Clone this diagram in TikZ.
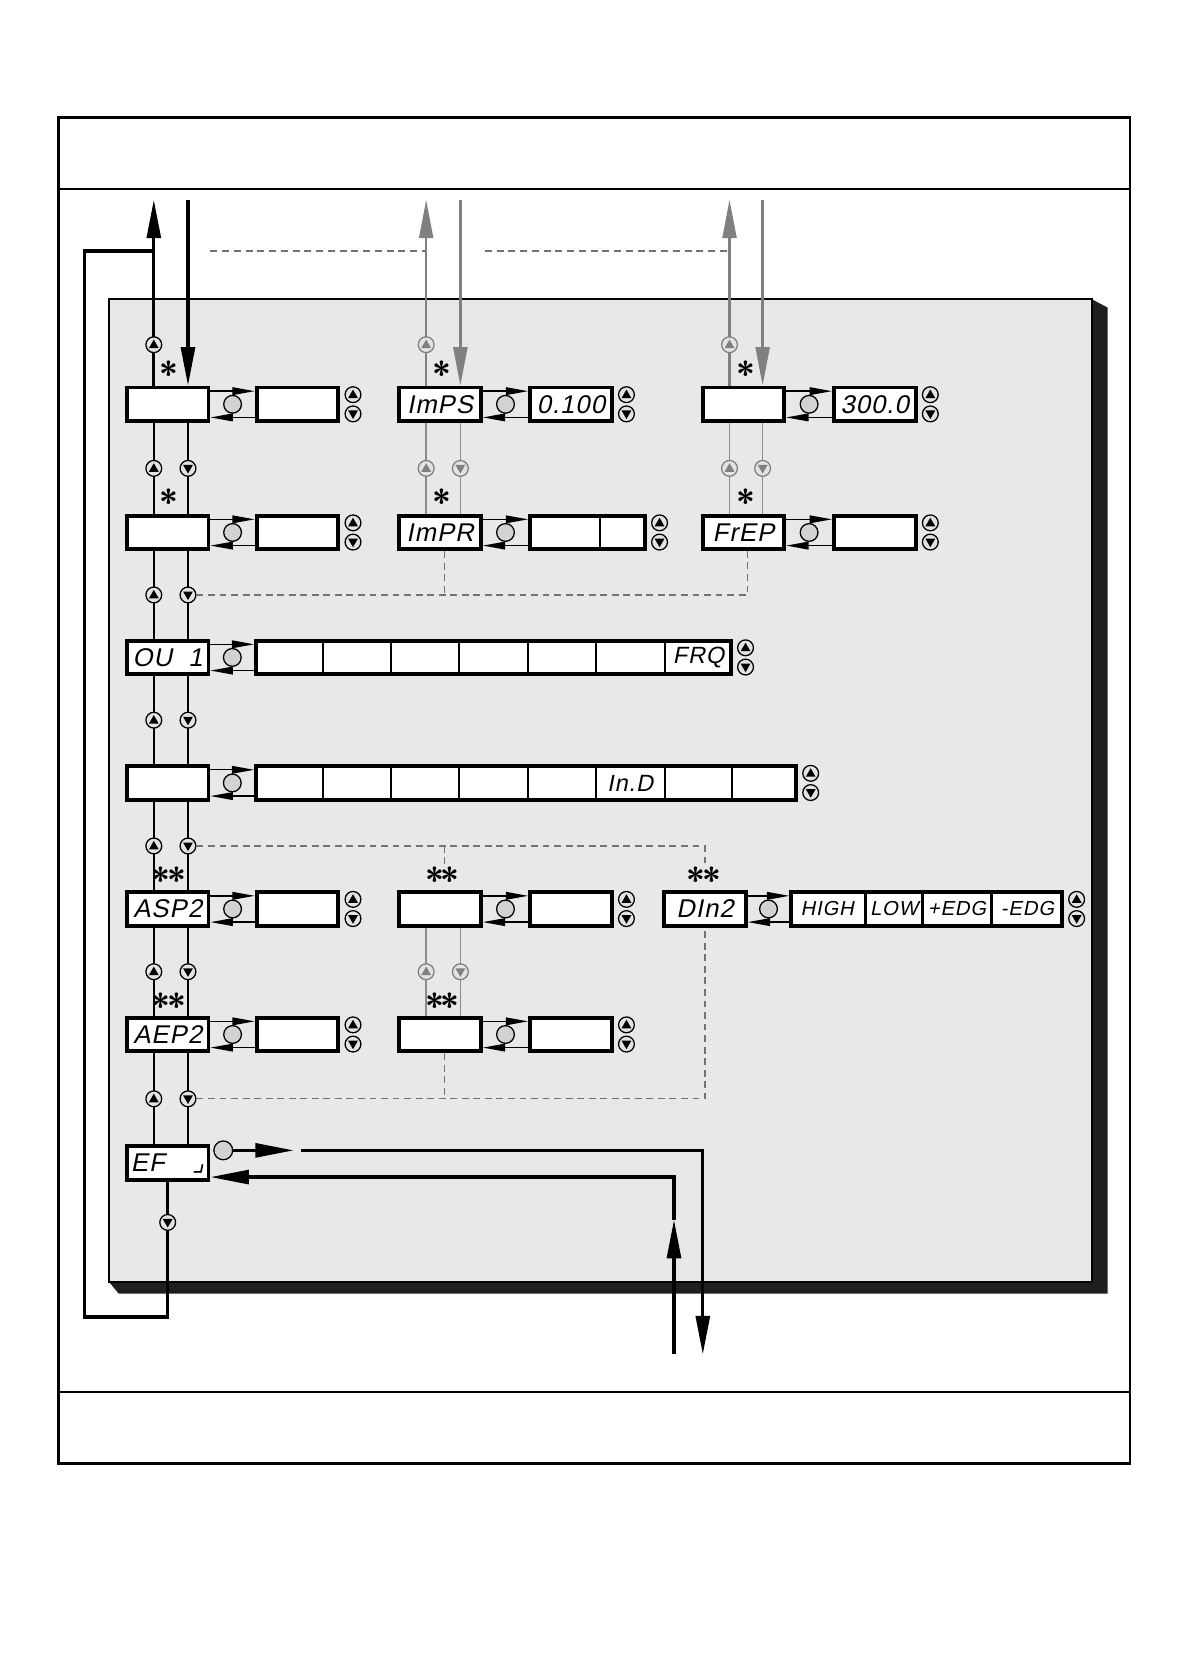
\documentclass[tikz,border=0pt]{standalone}
\usepackage{fontspec}
\newfontfamily\lcd{Liberation Sans}[FakeSlant=0.2,LetterSpace=4]
\newfontfamily\symf{DejaVu Sans}[FakeSlant=0.2]
\usetikzlibrary{arrows.meta,calc}

\tikzset{
  disp/.style={draw, line width=1.8pt, fill=white, minimum width=38.2pt,
    minimum height=15.7pt, inner sep=0pt, font=\lcd\fontsize{12}{12}\selectfont},
  lcdtext/.style={inner sep=0pt, font=\lcd\fontsize{11}{11}\selectfont},
  cell/.style={inner sep=0pt, font=\lcd\fontsize{9.5}{9.5}\selectfont},
  astx/.style={inner sep=0pt, anchor=base, font=\sffamily\bfseries\fontsize{16}{16}\selectfont},
  press/.style={circle, draw, line width=0.6pt, fill=gray!35, minimum size=8.3pt, inner sep=0pt},
  upbtn/.style={circle, draw=#1, line width=0.6pt, fill=gray!22, minimum size=7.4pt, inner sep=0pt,
    path picture={\fill[#1] (path picture bounding box.center) +(0,2.4pt) -- +(-2.3pt,-1.6pt) -- +(2.3pt,-1.6pt) -- cycle;}},
  upbtn/.default=black,
  dnbtn/.style={circle, draw=#1, line width=0.6pt, fill=gray!22, minimum size=7.4pt, inner sep=0pt,
    path picture={\fill[#1] (path picture bounding box.center) +(0,-2.4pt) -- +(-2.3pt,1.6pt) -- +(2.3pt,1.6pt) -- cycle;}},
  dnbtn/.default=black,
  flow/.style={line width=0.65pt},
  gflow/.style={line width=0.65pt, color=black!45},
  big/.style={line width=1.5pt},
  gbig/.style={line width=1.2pt, color=black!50},
  bigtip/.style={-{Triangle[length=18pt,width=6.5pt]}},
  sel/.style={-{Triangle[length=10.5pt,width=3.6pt]}},
  ldash/.style={line width=0.6pt, color=black!55, dash pattern=on 3.2pt off 2.2pt},
  bdash/.style={line width=1.2pt, color=black!55, dash pattern=on 3.3pt off 2.2pt},
}

% box -> value with the set button and the up/down pair
\newcommand\setval[2]{%
  \draw[flow,sel] ([yshift=-2.6pt]#1.north east) -- ([yshift=-2.6pt]#2.north west);
  \draw[flow,sel] ([yshift=2.6pt]#2.south west) -- ([yshift=2.6pt]#1.south east);
  \node[press] (#1-ok) at ($(#1.east)!.5!(#2.west)$) {};
  \node[upbtn] (#2-up) at ([xshift=6pt,yshift=4.5pt]#2.east) {};
  \node[dnbtn] (#2-dn) at ([xshift=6pt,yshift=-4.5pt]#2.east) {};
}

\begin{document}
\begin{tikzpicture}[x=0.5pt,y=-0.5pt]
  \useasboundingbox (0,0) rectangle (1115,1571);

  % frame
  \draw[line width=1.3pt] (55,110) rectangle (1058,1370);
  \draw[line width=1.1pt] (55,177) -- (1058,177);
  \draw[line width=1.1pt] (55,1303) -- (1058,1303);

  % panel with shadow
  \fill[black!88] (1022,280) -- (1037,288) -- (1037,1211) -- (111,1211) -- (102,1200) -- (1022,1200) -- cycle;
  \draw[line width=0.9pt, fill=gray!18] (102,280) rectangle (1022,1200);

  \coordinate (top) at (0,187);
  \coordinate (band) at (0,235);
  \coordinate (upA) at (144,0);
  \coordinate (dnA) at (176,0);
  \coordinate (upB) at (399,0);
  \coordinate (dnB) at (431,0);
  \coordinate (upC) at (683,0);
  \coordinate (dnC) at (714,0);

  % displays
  \node[disp] (A1) at (157,378.5) {};
  \node[disp] (VA1) at (278.5,378.5) {};
  \node[disp] (A2) at (157,498.5) {};
  \node[disp] (VA2) at (278.5,498.5) {};
  \node[disp] (A3) at (157,615.5) {OU\ \ 1};
  \node[disp, minimum width=222.2pt] (O3) at (462,615.5) {};
  \node[disp] (A4) at (157,733) {};
  \node[disp, minimum width=252.7pt] (O4) at (492.5,733) {};
  \node[disp] (A5) at (157,851) {ASP2};
  \node[disp] (VA5) at (278.5,851) {};
  \node[disp] (A6) at (157,968.5) {AEP2};
  \node[disp] (VA6) at (278.5,968.5) {};
  \node[disp] (A7) at (157,1089) {EF\hspace{13pt}{\symf ⌟}};

  \node[disp] (B1) at (412,378.5) {ImPS};
  \node[disp] (VB1) at (534.5,378.5) {0.100};
  \node[disp] (B2) at (412,498.5) {ImPR};
  \node[disp, minimum width=53.7pt] (VB2) at (550,498.5) {};
  \node[disp] (B5) at (412,851) {};
  \node[disp] (VB5) at (534.5,851) {};
  \node[disp] (B6) at (412,968.5) {};
  \node[disp] (VB6) at (534.5,968.5) {};

  \node[disp] (C1) at (696,378.5) {};
  \node[disp] (VC1) at (819,378.5) {300.0};
  \node[disp] (C2) at (696,498.5) {FrEP};
  \node[disp] (VC2) at (819,498.5) {};
  \node[disp] (D5) at (660,851) {DIn2};
  \node[disp, minimum width=126.7pt] (VD5) at (867.5,851) {};

  % cells
  \foreach \x in {302,366,430,494,558,623}
    \draw[line width=0.9pt] (\x,0 |- O3.north) -- (\x,0 |- O3.south);
  \foreach \x in {302,366,430,494,558,623,685}
    \draw[line width=0.9pt] (\x,0 |- O4.north) -- (\x,0 |- O4.south);
  \foreach \x in {810,864,928}
    \draw[line width=1.3pt] (\x,0 |- VD5.north) -- (\x,0 |- VD5.south);
  \draw[line width=1.1pt] (562,0 |- VB2.north) -- (562,0 |- VB2.south);

  \node[lcdtext] (O3-frq) at (654,615.5) {FRQ};
  \node[lcdtext] (O4-ind) at (590,733) {In.D};
  \node[cell] (VD5-high) at (774.5,851) {HIGH};
  \node[cell] (VD5-low) at (837,851) {LOW};
  \node[cell] (VD5-pe) at (896,851) {+EDG};
  \node[cell] (VD5-ne) at (962,851) {-EDG};

  \setval{A1}{VA1}
  \setval{A2}{VA2}
  \setval{A3}{O3}
  \setval{A4}{O4}
  \setval{A5}{VA5}
  \setval{A6}{VA6}
  \setval{B1}{VB1}
  \setval{B2}{VB2}
  \setval{B5}{VB5}
  \setval{B6}{VB6}
  \setval{C1}{VC1}
  \setval{C2}{VC2}
  \setval{D5}{VD5}

  % stars
  \node[astx] (sA1) at (158,362) {*};
  \node[astx] (sA2) at (158,482) {*};
  \node[astx] (sB1) at (414,362) {*};
  \node[astx] (sB2) at (414,482) {*};
  \node[astx] (sC1) at (698,362) {*};
  \node[astx] (sC2) at (698,482) {*};
  \node[astx] (sA5) at (158,836) {*\kern-1.5pt*};
  \node[astx] (sA6) at (158,954) {*\kern-1.5pt*};
  \node[astx] (sB5) at (414,836) {*\kern-1.5pt*};
  \node[astx] (sB6) at (414,954) {*\kern-1.5pt*};
  \node[astx] (sD5) at (659,836) {*\kern-1.5pt*};

  % column A steps
  \foreach \a/\b in {A1/A2,A2/A3,A3/A4,A4/A5,A5/A6,A6/A7}{
    \draw[flow] (upA |- \b.north) -- node[upbtn] (\a-u) {} (upA |- \a.south);
    \draw[flow] (dnA |- \a.south) -- node[dnbtn] (\a-d) {} (dnA |- \b.north);
  }
  % grey steps
  \foreach \a/\b/\u/\d in {B1/B2/upB/dnB,C1/C2/upC/dnC,B5/B6/upB/dnB}{
    \draw[gflow] (\u |- \b.north) -- node[upbtn=black!50] (\a-u) {} (\u |- \a.south);
    \draw[gflow] (\d |- \a.south) -- node[dnbtn=black!50] (\a-d) {} (\d |- \b.north);
  }

  % in and out at the top
  \draw[big,bigtip] (upA |- A1.north) -- node[upbtn, pos=0.22] (A0-u) {} (upA |- top);
  \draw[big,bigtip] (dnA |- top) -- (dnA |- A1.north);
  \draw[gbig,bigtip] (upB |- B1.north) -- node[upbtn=black!50, pos=0.22] (B0-u) {} (upB |- top);
  \draw[gbig,bigtip] (dnB |- top) -- (dnB |- B1.north);
  \draw[gbig,bigtip] (upC |- C1.north) -- node[upbtn=black!50, pos=0.22] (C0-u) {} (upC |- top);
  \draw[gbig,bigtip] (dnC |- top) -- (dnC |- C1.north);

  \draw[bdash] (197,235) -- (upB |- band);
  \draw[bdash] (454,235) -- (upC |- band);

  % branches
  \draw[ldash] (A2-d.east) -- (A2-d.east -| 700,0) -- ([xshift=2pt]C2.south);
  \draw[ldash] ([xshift=2pt]B2.south) -- ([xshift=2pt]B2.south |- A2-d);
  \draw[ldash] (A4-d.east) -- (A4-d.east -| D5.north) -- (sD5.north -| D5.north);
  \draw[ldash] (A4-d.east -| 416,0) -- (416,0 |- sB5.north);
  \draw[ldash] (A6-d.east) -- (A6-d.east -| D5.south) -- (D5.south);
  \draw[ldash] ([xshift=2pt]B6.south) -- ([xshift=2pt]B6.south |- A6-d);

  % EF
  \coordinate (loop) at (79,1233);
  \coordinate (outtip) at (275,1077);
  \coordinate (outgo) at (282,1077);
  \coordinate (outend) at (658,1268);
  \coordinate (inbeg) at (631,1268);
  \coordinate (inmid) at (631,1142);
  \coordinate (incorner) at (631,1102);
  \node[press, minimum size=8.8pt] (A7-ok) at (209,1077) {};
  \draw[big,bigtip] (A7-ok) -- (outtip);
  \draw[big,bigtip] (outgo) -- (outgo -| outend) -- (outend);
  \draw[big,bigtip] (inbeg) -- (inmid);
  \draw[big,bigtip] (inmid) -- (incorner) -- (A7.east |- incorner);
  \draw[big] (A7.south) -- node[dnbtn, pos=0.3] (A7-d) {} (A7.south |- loop) -- (loop) -- (loop |- band) -- (upA |- band);
\end{tikzpicture}
\end{document}
